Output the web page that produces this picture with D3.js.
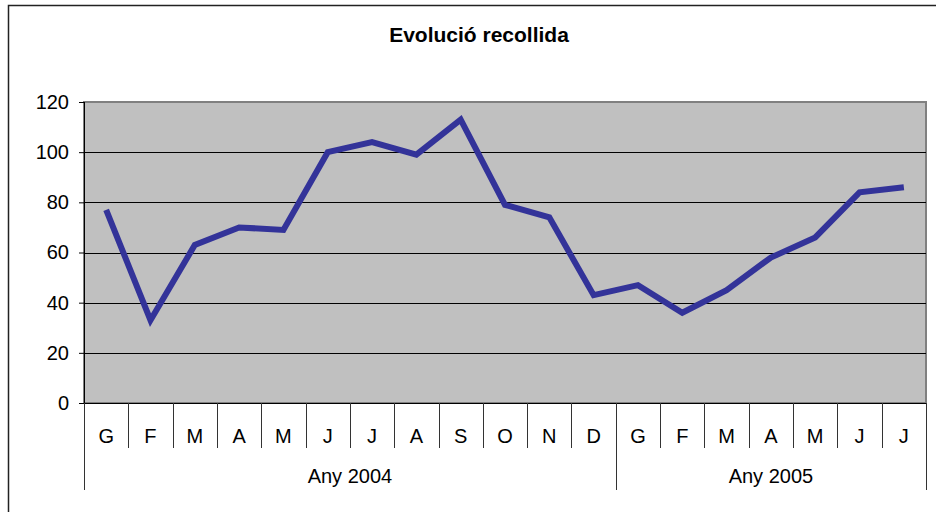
<!DOCTYPE html>
<html lang="ca">
<head>
    <meta charset="UTF-8">
    <title>Evolució recollida</title>
    <script src="https://d3js.org/d3.v7.min.js"></script>
    <style>
        body { margin: 0; background: #fff; }
        svg { display: block; font-family: "Liberation Sans", Arial, sans-serif; }
        .axis-y path { display: none; }
        .axis-y text { font-size: 20px; fill: #000; }
        .cat { font-size: 20px; fill: #000; }
    </style>
</head>
<body>
    <svg width="936" height="512"></svg>
    <script>
        const months = ["G", "F", "M", "A", "M", "J", "J", "A", "S", "O", "N", "D",
                        "G", "F", "M", "A", "M", "J", "J"];
        const years = [
            { label: "Any 2004", count: 12 },
            { label: "Any 2005", count: 7 }
        ];
        const values = [77, 33, 63, 70, 69, 100, 104, 99, 113, 79, 74, 43,
                        47, 36, 45, 58, 66, 84, 86];
        const yTicks = [0, 20, 40, 60, 80, 100, 120];

        const svg = d3.select("svg");
        const plot = { left: 84, right: 926, top: 102, bottom: 403 };

        // outer chart border (right/bottom run off the picture)
        svg.append("rect")
            .attr("x", 8.5).attr("y", 5.5)
            .attr("width", 940).attr("height", 520)
            .attr("fill", "none").attr("stroke", "#222").attr("stroke-width", 1.5);

        svg.append("text")
            .attr("x", 479).attr("y", 42)
            .attr("text-anchor", "middle")
            .attr("font-size", 21).attr("font-weight", "bold")
            .text("Evolució recollida");

        const idx = d3.range(months.length);
        const x = d3.scaleBand()
            .domain(idx)
            .range([plot.left, plot.right]);

        const y = d3.scaleLinear()
            .domain([0, 120])
            .range([plot.bottom, plot.top]);

        // plot background
        svg.append("rect")
            .attr("x", plot.left).attr("y", plot.top)
            .attr("width", plot.right - plot.left)
            .attr("height", plot.bottom - plot.top)
            .attr("fill", "#c0c0c0")
            .attr("stroke", "#808080").attr("stroke-width", 2);

        // gridlines
        svg.append("g")
            .selectAll("line")
            .data(yTicks.filter(d => d > 0 && d < 120))
            .join("line")
            .attr("x1", plot.left).attr("x2", plot.right)
            .attr("y1", d => Math.round(y(d)) + 0.5)
            .attr("y2", d => Math.round(y(d)) + 0.5)
            .attr("stroke", "#000");

        // y axis
        const yAxis = svg.append("g")
            .attr("class", "axis-y")
            .attr("transform", `translate(${plot.left},0)`)
            .call(d3.axisLeft(y).tickValues(yTicks).tickSize(5).tickPadding(10));
        yAxis.selectAll(".tick line").attr("stroke", "#000");
        svg.append("line")
            .attr("x1", plot.left + 0.5).attr("x2", plot.left + 0.5)
            .attr("y1", plot.top).attr("y2", plot.bottom)
            .attr("stroke", "#000");

        // x axis line
        svg.append("line")
            .attr("x1", plot.left).attr("x2", plot.right)
            .attr("y1", plot.bottom + 0.5).attr("y2", plot.bottom + 0.5)
            .attr("stroke", "#000");

        // month separators
        svg.append("g")
            .selectAll("line")
            .data(d3.range(1, months.length))
            .join("line")
            .attr("x1", d => Math.round(x(d)) + 0.5)
            .attr("x2", d => Math.round(x(d)) + 0.5)
            .attr("y1", plot.bottom).attr("y2", plot.bottom + 45)
            .attr("stroke", "#333");

        // month labels
        svg.append("g")
            .selectAll("text")
            .data(idx)
            .join("text")
            .attr("class", "cat")
            .attr("x", d => x(d) + x.bandwidth() / 2)
            .attr("y", 443)
            .attr("text-anchor", "middle")
            .text(d => months[d]);

        // year groups
        let start = 0;
        const groups = years.map(g => {
            const o = { label: g.label, from: start, to: start + g.count };
            start += g.count;
            return o;
        });
        const edges = [0].concat(groups.map(g => g.to));
        svg.append("g")
            .selectAll("line")
            .data(edges)
            .join("line")
            .attr("x1", d => Math.round(d < months.length ? x(d) : plot.right) + 0.5)
            .attr("x2", d => Math.round(d < months.length ? x(d) : plot.right) + 0.5)
            .attr("y1", plot.bottom).attr("y2", 490)
            .attr("stroke", "#333");
        svg.append("g")
            .selectAll("text")
            .data(groups)
            .join("text")
            .attr("class", "cat")
            .attr("x", g => {
                const a = x(g.from);
                const b = g.to < months.length ? x(g.to) : plot.right;
                return (a + b) / 2;
            })
            .attr("y", 483)
            .attr("text-anchor", "middle")
            .text(g => g.label);

        // series line
        const line = d3.line()
            .x((d, i) => x(i) + x.bandwidth() / 2)
            .y(d => y(d));
        svg.append("path")
            .datum(values)
            .attr("d", line)
            .attr("fill", "none")
            .attr("stroke", "#333399")
            .attr("stroke-width", 6)
            .attr("stroke-linejoin", "miter");
    </script>
</body>
</html>
